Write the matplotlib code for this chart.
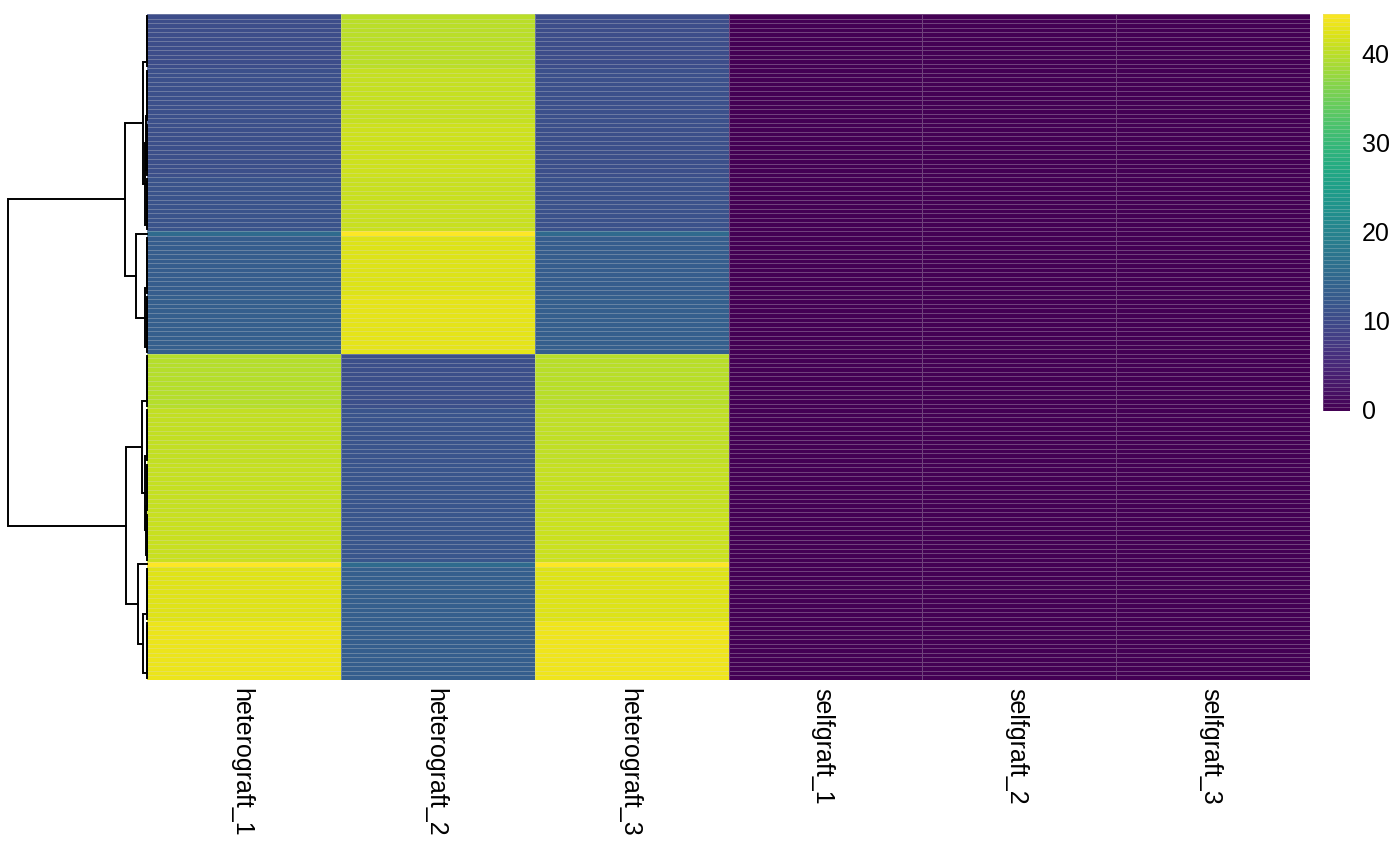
import numpy as np
import matplotlib
matplotlib.use('Agg')
import matplotlib.pyplot as plt

plt.rcParams['font.family'] = ['Liberation Sans', 'DejaVu Sans']

# column labels of the heatmap
samples = ['heterograft_1', 'heterograft_2', 'heterograft_3',
           'selfgraft_1', 'selfgraft_2', 'selfgraft_3']

# rows come in blocks of near-identical values (top to bottom)
block_rows = [12, 12, 12, 12, 1, 13, 13, 12, 12, 11, 11, 1, 12, 13]
heterograft_1 = [10.5, 11.0, 10.8, 11.5, 15.5, 13.0, 13.5, 39.8, 40.6, 40.8, 41.0, 44.7, 42.5, 43.4]
heterograft_2 = [40.0, 40.8, 41.3, 41.0, 44.7, 42.3, 42.8, 10.8, 11.6, 11.9, 12.1, 15.5, 13.5, 13.2]
heterograft_3 = [10.4, 11.0, 10.9, 11.4, 15.4, 13.1, 13.4, 39.9, 40.5, 40.8, 41.1, 44.6, 42.4, 43.5]
selfgraft_1 = [0.1, 0.1, 0.1, 0.1, 0.1, 0.1, 0.1, 0.1, 0.1, 0.1, 0.1, 0.1, 0.1, 0.1]
selfgraft_2 = [0.1, 0.1, 0.1, 0.1, 0.1, 0.1, 0.1, 0.1, 0.1, 0.1, 0.1, 0.1, 0.1, 0.1]
selfgraft_3 = [0.1, 0.1, 0.1, 0.1, 0.1, 0.1, 0.1, 0.1, 0.1, 0.1, 0.1, 0.1, 0.1, 0.1]

cbar_ticks = [0, 10, 20, 30, 40]


def complete_linkage(X):
    # plain agglomerative clustering, euclidean + complete linkage
    n = len(X)
    D = np.sqrt(((X[:, None, :] - X[None, :, :]) ** 2).sum(-1))
    np.fill_diagonal(D, np.inf)
    slot = list(range(n))
    members = {i: [i] for i in range(n)}
    height = {i: 0.0 for i in range(n)}
    children = {}
    for step in range(n - 1):
        a, b = np.unravel_index(np.argmin(D), D.shape)
        a, b = min(a, b), max(a, b)
        h = D[a, b]
        new = n + step
        children[new] = (slot[a], slot[b])
        members[new] = members[slot[a]] + members[slot[b]]
        height[new] = h
        row = np.maximum(D[a], D[b])
        D[a, :] = row
        D[:, a] = row
        D[a, a] = np.inf
        D[b, :] = np.inf
        D[:, b] = np.inf
        slot[a] = new
    return children, members, height, 2 * n - 2


def leaf_order(node, children, members):
    if node not in children:
        return [node]
    kids = sorted(children[node], key=lambda c: min(members[c]))
    out = []
    for k in kids:
        out += leaf_order(k, children, members)
    return out


cols = [heterograft_1, heterograft_2, heterograft_3, selfgraft_1, selfgraft_2, selfgraft_3]
data = np.column_stack([np.repeat(c, block_rows) for c in cols])
n_rows = data.shape[0]

children, members, height, root = complete_linkage(data)
order = leaf_order(root, children, members)
data = data[order]
ypos = {leaf: i + 0.5 for i, leaf in enumerate(order)}

vmin, vmax = data.min(), data.max()

fig = plt.figure(figsize=(14, 8.65), dpi=100)
W, H = 1400, 865

# heatmap
ax = fig.add_axes([147 / W, 1 - 680 / H, (1310 - 147) / W, (680 - 14) / H])
ax.pcolormesh(np.arange(7), np.arange(n_rows + 1), data, cmap='viridis',
              vmin=vmin, vmax=vmax, edgecolors=(0.85, 0.85, 0.85, 0.3), linewidth=0.4)
ax.set_xlim(0, 6)
ax.set_ylim(n_rows, 0)
ax.axis('off')
for j, name in enumerate(samples):
    ax.annotate(name, xy=(j + 0.5, 0), xycoords=('data', 'axes fraction'),
                xytext=(-2, -6), textcoords='offset points', rotation=270,
                ha='center', va='top', fontsize=18)

# row dendrogram
dax = fig.add_axes([8 / W, 1 - 680 / H, (147 - 8) / W, (680 - 14) / H])


def node_y(node):
    if node not in children:
        return ypos[node]
    a, b = children[node]
    return (node_y(a) + node_y(b)) / 2


for node, (a, b) in children.items():
    h = height[node]
    ya, yb = node_y(a), node_y(b)
    dax.plot([height[a], h, h, height[b]], [ya, ya, yb, yb], color='black',
             lw=1.4, clip_on=False, solid_joinstyle='miter')
dax.set_xlim(height[root], 0)
dax.set_ylim(n_rows, 0)
dax.axis('off')

# colour legend
cax = fig.add_axes([1323 / W, 1 - 411 / H, 27 / W, (411 - 14) / H])
levels = np.linspace(vmin, vmax, 101)
cax.pcolormesh([0, 1], levels, levels[:-1].reshape(-1, 1), cmap='viridis',
               vmin=vmin, vmax=vmax, edgecolors=(0.85, 0.85, 0.85, 0.25), linewidth=0.4)
cax.set_xlim(0, 1)
cax.set_ylim(vmin, vmax)
cax.axis('off')
for t in cbar_ticks:
    cax.annotate(str(t), xy=(1, t), xycoords=('axes fraction', 'data'),
                 xytext=(8.5, 0), textcoords='offset points',
                 ha='left', va='center', fontsize=18)

fig.savefig('out.png', dpi=100)
